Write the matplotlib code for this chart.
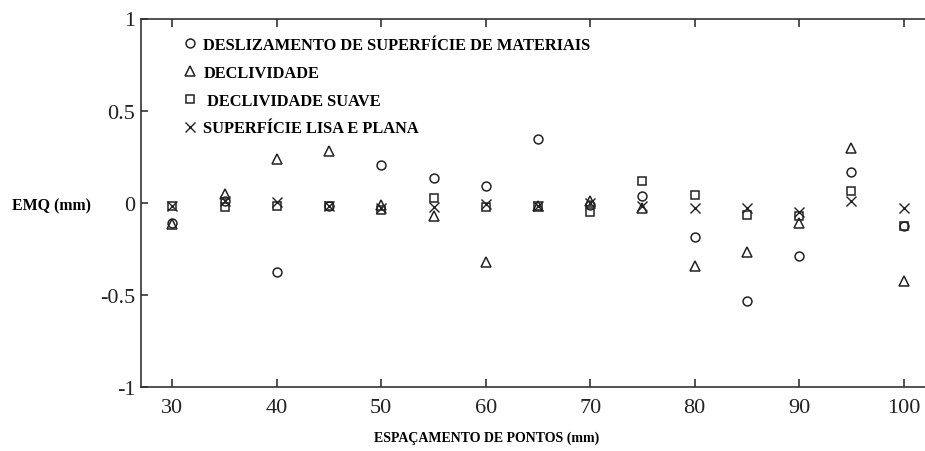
import matplotlib
matplotlib.use("Agg")
import matplotlib.pyplot as plt

plt.rcParams["font.family"] = ["Liberation Serif", "DejaVu Serif"]
plt.rcParams["axes.unicode_minus"] = False

espacamento = [30, 35, 40, 45, 50, 55, 60, 65, 70, 75, 80, 85, 90, 95, 100]
deslizamento = [-0.11, 0.01, -0.374, -0.02, 0.205, 0.134, 0.093, 0.346, -0.01, 0.038, -0.188, -0.535, -0.287, 0.165, -0.128]
declividade = [-0.115, 0.05, 0.237, 0.283, -0.01, -0.07, -0.323, -0.015, 0.01, -0.03, -0.342, -0.265, -0.11, 0.295, -0.426]
declividade_suave = [-0.02, -0.025, -0.02, -0.02, -0.04, 0.026, -0.025, -0.02, -0.05, 0.116, 0.042, -0.066, -0.07, 0.065, -0.128]
lisa_plana = [-0.016, 0.012, 0.005, -0.02, -0.03, -0.025, -0.007, -0.02, 0.0, -0.016, -0.03, -0.03, -0.048, 0.011, -0.03]

# data, marker, size, label
series = [
    (deslizamento, "o", 6.4, "DESLIZAMENTO DE SUPERFÍCIE DE MATERIAIS"),
    (declividade, "^", 7.6, "DECLIVIDADE"),
    (declividade_suave, "s", 6.0, " DECLIVIDADE SUAVE"),
    (lisa_plana, "x", 6.5, "SUPERFÍCIE LISA E PLANA"),
]

W, H = 925, 452
fig = plt.figure(figsize=(W / 100, H / 100), dpi=100)
ax = fig.add_axes([141 / W, 64 / H, 794 / W, 368.5 / H])

for ys, mk, ms, lab in series:
    if mk == "x":
        ax.plot(espacamento, ys, ls="none", marker=mk, ms=ms, mew=1.0,
                color="#222222", label=lab)
    else:
        ax.plot(espacamento, ys, ls="none", marker=mk, ms=ms, mew=1.1,
                mfc="none", mec="#222222", label=lab)

ax.set_xlim(27, 103)
ax.set_ylim(-1, 1)
ax.set_xticks(range(30, 101, 10))
ax.set_yticks([-1, -0.5, 0, 0.5, 1])
ax.set_yticklabels(["-1", "-0.5", "0", "0.5", "1"])
ax.spines["right"].set_visible(False)
for sp in ax.spines.values():
    sp.set_linewidth(1.2)
    sp.set_color("#333333")
ax.tick_params(axis="x", direction="in", top=True, length=6, width=1.2,
               labelsize=16, pad=8, colors="#333333", labelcolor="#222222")
ax.tick_params(axis="y", direction="in", right=False, length=5, width=1.2,
               labelsize=16, pad=4, colors="#333333", labelcolor="#222222")

fig.text(51 / W, 1 - 206 / H, "EMQ (mm)", fontsize=11.4, fontweight="bold",
         ha="center", va="center")
fig.text(487 / W, 1 - 438 / H, "ESPAÇAMENTO DE PONTOS (mm)", fontsize=10,
         fontweight="bold", ha="center", va="center")

leg = ax.legend(loc="upper left", bbox_to_anchor=(183 / W, 1 - 38 / H),
                bbox_transform=fig.transFigure, frameon=False,
                prop={"size": 11.8, "weight": "bold"}, handlelength=0.9,
                handletextpad=0.35, labelspacing=0.72, borderpad=0,
                borderaxespad=0)

fig.savefig("out.png", dpi=100)
